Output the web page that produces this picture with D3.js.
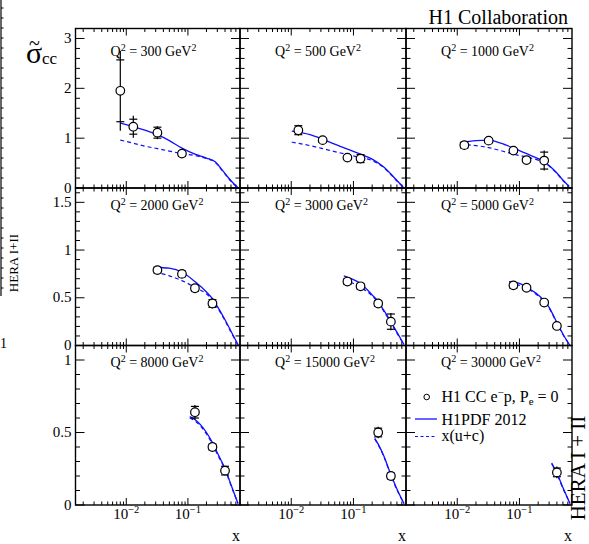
<!DOCTYPE html>
<html>
<head>
<meta charset="utf-8">
<script src="https://cdn.jsdelivr.net/npm/d3@7"></script>
<style>
  body { margin: 0; background: #fff; }
  svg { display: block; font-family: "Liberation Serif", "Times New Roman", serif; }
</style>
</head>
<body>
<script>
// Q2 bins, one panel each (3 x 3 grid)
const q2Values = [300, 500, 1000, 2000, 3000, 5000, 8000, 15000, 30000];

// H1 CC e-p measurement: x, reduced cross section, stat and total errors
const dataX = [
  [0.008, 0.013, 0.032, 0.08],
  [0.013, 0.032, 0.08, 0.13],
  [0.013, 0.032, 0.08, 0.13, 0.25],
  [0.032, 0.08, 0.13, 0.25],
  [0.08, 0.13, 0.25, 0.4],
  [0.08, 0.13, 0.25, 0.4],
  [0.13, 0.25, 0.4],
  [0.25, 0.4],
  [0.4]
];
const dataY = [
  [1.95, 1.23, 1.11, 0.69],
  [1.16, 0.96, 0.61, 0.59],
  [0.86, 0.95, 0.75, 0.56, 0.55],
  [0.79, 0.75, 0.60, 0.44],
  [0.67, 0.62, 0.44, 0.25],
  [0.63, 0.605, 0.45, 0.205],
  [0.64, 0.40, 0.237],
  [0.50, 0.20],
  [0.225]
];
const statErr = [
  [0.62, 0.15, 0.11, 0.05],
  [0.09, 0.04, 0.03, 0.08],
  [0.06, 0.04, 0.03, 0.04, 0.17],
  [0.03, 0.03, 0.03, 0.04],
  [0.03, 0.03, 0.03, 0.08],
  [0.03, 0.02, 0.02, 0.02],
  [0.04, 0.02, 0.03],
  [0.03, 0.02],
  [0.03]
];
const totErr = [
  [0.80, 0.22, 0.13, 0.06],
  [0.11, 0.05, 0.04, 0.09],
  [0.08, 0.05, 0.04, 0.05, 0.20],
  [0.04, 0.04, 0.04, 0.05],
  [0.04, 0.03, 0.04, 0.09],
  [0.04, 0.03, 0.03, 0.03],
  [0.05, 0.03, 0.03],
  [0.04, 0.02],
  [0.04]
];

// H1PDF 2012 prediction (solid)
const pdfX = [
  [0.008, 0.013, 0.02, 0.032, 0.05, 0.08, 0.13, 0.2, 0.28, 0.35, 0.45, 0.55, 0.66],
  [0.0102, 0.02, 0.032, 0.05, 0.08, 0.13, 0.2, 0.3, 0.4, 0.5, 0.63],
  [0.011, 0.02, 0.032, 0.05, 0.08, 0.13, 0.2, 0.25, 0.3, 0.4, 0.5, 0.63],
  [0.029, 0.05, 0.08, 0.13, 0.2, 0.25, 0.3, 0.4, 0.5, 0.66],
  [0.07, 0.1, 0.13, 0.2, 0.25, 0.3, 0.4, 0.5, 0.65],
  [0.068, 0.1, 0.13, 0.2, 0.25, 0.3, 0.4, 0.5, 0.65],
  [0.107, 0.13, 0.2, 0.25, 0.3, 0.4, 0.5, 0.65],
  [0.22, 0.25, 0.3, 0.4, 0.5, 0.65],
  [0.33, 0.4, 0.5, 0.65]
];
const pdfY = [
  [1.30, 1.23, 1.16, 1.07, 0.95, 0.80, 0.68, 0.60, 0.52, 0.38, 0.21, 0.09, 0.0],
  [1.14, 1.07, 0.98, 0.88, 0.78, 0.68, 0.58, 0.43, 0.28, 0.15, 0.02],
  [0.91, 0.95, 0.96, 0.90, 0.80, 0.69, 0.59, 0.53, 0.45, 0.30, 0.16, 0.03],
  [0.82, 0.81, 0.77, 0.67, 0.56, 0.49, 0.41, 0.27, 0.15, 0.0],
  [0.73, 0.69, 0.65, 0.53, 0.46, 0.38, 0.25, 0.14, 0.01],
  [0.67, 0.65, 0.61, 0.53, 0.47, 0.40, 0.24, 0.12, 0.0],
  [0.61, 0.59, 0.50, 0.43, 0.36, 0.25, 0.14, 0.01],
  [0.46, 0.42, 0.35, 0.21, 0.11, 0.01],
  [0.29, 0.22, 0.12, 0.01]
];

// x(u+c) contribution (dashed)
const ucX = [
  [0.008, 0.013, 0.02, 0.032, 0.05, 0.08, 0.13, 0.2, 0.28, 0.35, 0.45, 0.55, 0.66],
  [0.0102, 0.02, 0.032, 0.05, 0.08, 0.13, 0.2, 0.3, 0.4, 0.5, 0.63],
  [0.011, 0.02, 0.032, 0.05, 0.08, 0.13, 0.2, 0.25, 0.3, 0.4, 0.5, 0.63],
  [0.029, 0.05, 0.08, 0.13, 0.2, 0.25, 0.3, 0.4, 0.5, 0.66],
  [0.07, 0.1, 0.13, 0.2, 0.25, 0.3, 0.4, 0.5, 0.65],
  [0.068, 0.1, 0.13, 0.2, 0.25, 0.3, 0.4, 0.5, 0.65],
  [0.107, 0.13, 0.2, 0.25, 0.3, 0.4, 0.5, 0.65],
  [0.22, 0.25, 0.3, 0.4, 0.5, 0.65],
  [0.33, 0.4, 0.5, 0.65]
];
const ucY = [
  [0.96, 0.90, 0.84, 0.79, 0.74, 0.69, 0.65, 0.59, 0.51, 0.37, 0.20, 0.08, 0.0],
  [0.92, 0.85, 0.79, 0.73, 0.67, 0.61, 0.55, 0.42, 0.27, 0.14, 0.02],
  [0.88, 0.85, 0.81, 0.75, 0.68, 0.62, 0.56, 0.51, 0.44, 0.29, 0.15, 0.03],
  [0.77, 0.73, 0.68, 0.61, 0.54, 0.48, 0.40, 0.26, 0.14, 0.0],
  [0.69, 0.65, 0.61, 0.52, 0.45, 0.37, 0.24, 0.13, 0.01],
  [0.65, 0.63, 0.60, 0.52, 0.46, 0.39, 0.235, 0.115, 0.0],
  [0.60, 0.58, 0.49, 0.42, 0.35, 0.245, 0.135, 0.01],
  [0.455, 0.415, 0.345, 0.205, 0.105, 0.01],
  [0.285, 0.215, 0.115, 0.01]
];

// axes
const xDomain = [0.0015, 0.7];
const xLabelTicks = [0.01, 0.1];
const xLabelExp = ["-2", "-1"];
const yDomains = [[0, 3.2], [0, 1.65], [0, 1.1]];
const yMajor = [[0, 1, 2, 3], [0, 0.5, 1, 1.5], [0, 0.5, 1]];
const yLabels = [["0", "1", "2", "3"], ["0", "0.5", "1", "1.5"], ["0", "0.5", "1"]];
const yMinorStep = [0.2, 0.1, 0.1];

// page layout
const W = 589, H = 544;
const colEdges = [75.5, 240, 406, 572];
const rowEdges = [28.5, 188, 345.5, 505];
const labelBase = [56, 210, 367];
const blue = "#1010ff";

const svg = d3.select("body").append("svg")
  .attr("width", W)
  .attr("height", H);

svg.append("rect").attr("width", W).attr("height", H).attr("fill", "#fff");

q2Values.forEach((q2, i) => {
  const r = Math.floor(i / 3), c = i % 3;
  const x0 = colEdges[c], x1 = colEdges[c + 1];
  const y0 = rowEdges[r + 1], y1 = rowEdges[r];

  const x = d3.scaleLog().domain(xDomain).range([x0, x1]);
  const y = d3.scaleLinear().domain(yDomains[r]).range([y0, y1]);
  const g = svg.append("g");

  // x ticks, top and bottom, pointing inward
  x.ticks().forEach(t => {
    if (t >= xDomain[1] - 1e-9) return;
    const major = Math.abs(Math.log10(t) - Math.round(Math.log10(t))) < 1e-6;
    const len = major ? 7 : 3.5;
    g.append("line").attr("x1", x(t)).attr("x2", x(t)).attr("y1", y0).attr("y2", y0 - len)
      .attr("stroke", "#000").attr("stroke-width", 1);
    g.append("line").attr("x1", x(t)).attr("x2", x(t)).attr("y1", y1).attr("y2", y1 + len)
      .attr("stroke", "#000").attr("stroke-width", 1);
  });

  // y ticks, left and right
  const ymax = yDomains[r][1];
  d3.range(0, ymax + 1e-9, yMinorStep[r]).forEach(t => {
    const major = yMajor[r].some(m => Math.abs(m - t) < 1e-6);
    const len = major ? 9 : 4.5;
    g.append("line").attr("x1", x0).attr("x2", x0 + len).attr("y1", y(t)).attr("y2", y(t))
      .attr("stroke", "#000").attr("stroke-width", 1);
    g.append("line").attr("x1", x1).attr("x2", x1 - len).attr("y1", y(t)).attr("y2", y(t))
      .attr("stroke", "#000").attr("stroke-width", 1);
  });

  // y tick labels on the left column
  if (c === 0) {
    yMajor[r].forEach((t, k) => {
      svg.append("text")
        .attr("x", x0 - 4)
        .attr("y", y(t) + 4.5)
        .attr("text-anchor", "end")
        .attr("font-size", 15)
        .text(yLabels[r][k]);
    });
  }

  // x tick labels and axis title on the bottom row
  if (r === 2) {
    xLabelTicks.forEach((t, k) => {
      const lab = svg.append("text")
        .attr("x", x(t))
        .attr("y", 519)
        .attr("text-anchor", "middle")
        .attr("font-size", 15);
      lab.append("tspan").text("10");
      lab.append("tspan").attr("dy", -6).attr("font-size", 10.5).text(xLabelExp[k].replace("-", "\u2212"));
    });
    svg.append("text")
      .attr("x", x1 - 4)
      .attr("y", 541)
      .attr("text-anchor", "middle")
      .attr("font-size", 16)
      .text("x");
  }

  // curves
  const line = d3.line()
    .x(d => x(d[0]))
    .y(d => y(d[1]))
    .curve(d3.curveMonotoneX);

  g.append("path")
    .datum(ucX[i].map((v, k) => [v, ucY[i][k]]))
    .attr("d", line)
    .attr("fill", "none")
    .attr("stroke", blue)
    .attr("stroke-width", 1.2)
    .attr("stroke-dasharray", "4,3");

  g.append("path")
    .datum(pdfX[i].map((v, k) => [v, pdfY[i][k]]))
    .attr("d", line)
    .attr("fill", "none")
    .attr("stroke", blue)
    .attr("stroke-width", 1.3);

  // data points with total error bar and stat ticks
  dataX[i].forEach((xv, k) => {
    const yv = dataY[i][k], st = statErr[i][k], tot = totErr[i][k];
    const px = x(xv);
    g.append("line").attr("x1", px).attr("x2", px)
      .attr("y1", y(yv - tot)).attr("y2", y(yv + tot))
      .attr("stroke", "#000").attr("stroke-width", 1.2);
    [yv - st, yv + st].forEach(e => {
      g.append("line").attr("x1", px - 4).attr("x2", px + 4)
        .attr("y1", y(e)).attr("y2", y(e))
        .attr("stroke", "#000").attr("stroke-width", 1.2);
    });
    g.append("circle").attr("cx", px).attr("cy", y(yv)).attr("r", 4.3)
      .attr("fill", "#fff").attr("stroke", "#000").attr("stroke-width", 1.2);
  });

  // panel frame
  g.append("rect")
    .attr("x", x0).attr("y", y1)
    .attr("width", x1 - x0).attr("height", y0 - y1)
    .attr("fill", "none").attr("stroke", "#000").attr("stroke-width", 1.4);

  // Q2 label
  const lab = svg.append("text")
    .attr("x", x0 + 35)
    .attr("y", labelBase[r])
    .attr("font-size", 14);
  lab.append("tspan").text("Q");
  lab.append("tspan").attr("dy", -5).attr("font-size", 10).text("2");
  lab.append("tspan").attr("dy", 5).text(" = " + q2 + " GeV");
  lab.append("tspan").attr("dy", -5).attr("font-size", 10).text("2");
});

// legend in the last panel
const legX = 426.7;
svg.append("circle").attr("cx", legX).attr("cy", 397).attr("r", 2.8)
  .attr("fill", "#fff").attr("stroke", "#000").attr("stroke-width", 1);
const l1 = svg.append("text").attr("x", 441.5).attr("y", 402).attr("font-size", 16);
l1.append("tspan").text("H1 CC e");
l1.append("tspan").attr("dy", -6).attr("font-size", 11).text("\u2212");
l1.append("tspan").attr("dy", 6).text("p, P");
l1.append("tspan").attr("dy", 3).attr("font-size", 11).text("e");
l1.append("tspan").attr("dy", -3).text(" = 0");

svg.append("line").attr("x1", 415).attr("x2", 437).attr("y1", 419).attr("y2", 419)
  .attr("stroke", blue).attr("stroke-width", 1.3);
svg.append("text").attr("x", 441.5).attr("y", 425).attr("font-size", 16).text("H1PDF 2012");

svg.append("line").attr("x1", 415).attr("x2", 437).attr("y1", 436.5).attr("y2", 436.5)
  .attr("stroke", blue).attr("stroke-width", 1.2).attr("stroke-dasharray", "3,2.5");
svg.append("text").attr("x", 441.5).attr("y", 441).attr("font-size", 16).text("x(u+c)");

// titles
svg.append("text").attr("x", 568).attr("y", 24).attr("text-anchor", "end")
  .attr("font-size", 20).text("H1 Collaboration");

svg.append("text").attr("x", 26).attr("y", 63).attr("font-size", 30).text("\u03c3");
svg.append("text").attr("x", 29).attr("y", 50).attr("font-size", 20).text("~");
svg.append("text").attr("x", 42).attr("y", 64).attr("font-size", 17).text("cc");

svg.append("text")
  .attr("transform", "translate(585,468) rotate(-90)")
  .attr("text-anchor", "middle")
  .attr("font-size", 21)
  .text("HERA I + II");

// remnant of the neighbouring figure at the left edge
svg.append("line").attr("x1", 1).attr("x2", 1).attr("y1", 0).attr("y2", 296)
  .attr("stroke", "#000").attr("stroke-width", 1.2);
d3.range(8, 296, 10).forEach(t => {
  svg.append("line").attr("x1", 1).attr("x2", 3.5).attr("y1", t).attr("y2", t)
    .attr("stroke", "#000").attr("stroke-width", 1);
});
svg.append("text")
  .attr("transform", "translate(18,263) rotate(-90)")
  .attr("text-anchor", "middle")
  .attr("font-size", 13)
  .text("HERA I+II");
svg.append("text").attr("x", 0).attr("y", 348).attr("font-size", 14).text("1");
</script>
</body>
</html>
